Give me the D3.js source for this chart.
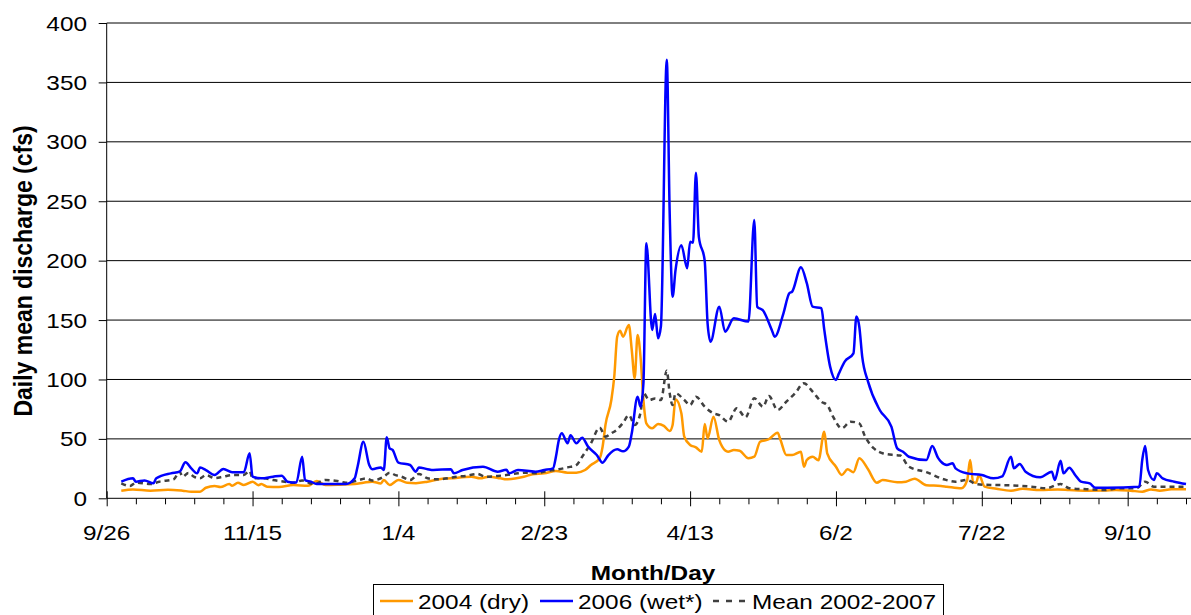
<!DOCTYPE html>
<html>
<head>
<meta charset="utf-8">
<script src="https://cdn.jsdelivr.net/npm/d3@7"></script>
<style>
  body { margin: 0; background: #fff; }
  svg { display: block; }
  text { font-family: "Liberation Sans", Arial, sans-serif; fill: #000; }
</style>
</head>
<body>
<script>
// days counted from 9/26; the water year runs 10/1 (day 5) to 9/30 (day 370)
var tickLabels = ["9/26", "11/15", "1/4", "2/23", "4/13", "6/2", "7/22", "9/10"];
var yTicks = [0, 50, 100, 150, 200, 250, 300, 350, 400];

// 2006 (wet*)
var wetDay = [5, 9, 10, 13, 16, 17, 22, 25, 27, 29, 31, 32, 34, 37, 40, 43, 47, 49, 50, 53,
  57, 60, 62, 65, 67, 68, 70, 72, 78, 82, 85, 86, 88, 90, 91, 94, 95, 96, 97, 98,
  100, 104, 106, 107, 110, 112, 118, 119, 122, 129, 134, 137, 138, 141, 147, 150, 153, 154, 155, 156,
  158, 159, 161, 163, 165, 168, 170, 172, 175, 177, 179, 180, 182, 183, 184, 185, 187, 188, 189, 190,
  192, 193, 194, 195, 197, 199, 200, 201, 202, 203, 205, 206, 207, 210, 212, 215, 220, 222, 223, 225,
  228, 229, 232, 234, 235, 238, 240, 242, 245, 246, 248, 250, 251, 253, 256, 257, 258, 259, 261, 265,
  269, 271, 273, 275, 281, 283, 285, 286, 288, 290, 291, 295, 300, 304, 307, 310, 311, 313, 315, 320,
  324, 325, 327, 328, 330, 332, 334, 337, 339, 343, 354, 355, 356, 357, 359, 360, 362, 366, 370];
var wetQ = [14, 16.8, 14, 15, 12.6, 16.8, 21, 22.4, 30.3, 25.2, 21, 26, 23.8, 19.6, 24.7, 21.9, 22, 37.9, 18.2, 16.8,
  18.2, 19, 14, 13.2, 35, 15.3, 14, 12, 12, 12, 16.8, 26.6, 47.6, 28, 24.5, 26, 23.8, 51.3, 42, 40.7,
  30, 28, 22.4, 26, 24.5, 23.8, 24.5, 21, 23.8, 26.6, 22.4, 24, 21, 23.8, 22.4, 23.8, 25.2, 35, 49, 54.7,
  46.3, 53, 46.3, 51, 43.5, 36.4, 30, 36.4, 41.2, 39.5, 43.5, 54.7, 85.5, 77, 96.8, 214.6, 141.7, 155, 134.7, 145,
  369, 240, 169.7, 192, 213, 193.6, 216, 215, 274, 220, 200, 147, 131.8, 161.3, 140.2, 151.5, 148.7, 234.3, 161.3, 158,
  141.7, 136, 155.7, 172.6, 174, 194.4, 181, 161.3, 160, 141.7, 110.8, 99.6, 105, 115, 122, 152.9, 144.4, 119.2, 98.2, 74.3,
  60.3, 42, 39.2, 35, 32.2, 44, 34, 30.8, 28, 29.5, 25.2, 21, 19.6, 16.8, 18.5, 35, 25.2, 28.9, 22.4, 17.7,
  22.4, 15.4, 31.6, 21, 25.8, 19.6, 14, 12.5, 8.9, 8.9, 9.8, 32.2, 44, 23.8, 15.4, 21, 16.8, 14, 12];

// 2004 (dry)
var dryDay = [5, 9, 15, 21, 26, 29, 32, 34, 37, 39, 42, 43, 45, 47, 50, 52, 53, 55, 59, 64,
  69, 72, 75, 80, 85, 88, 91, 94, 95, 97, 100, 103, 106, 110, 114, 118, 125, 128, 131, 135,
  137, 143, 146, 150, 154, 158, 161, 164, 166, 169, 170, 171, 173, 174, 175, 176, 177, 179, 180, 181,
  182, 183, 184, 185, 187, 189, 191, 193, 194, 195, 197, 198, 200, 202, 204, 205, 206, 208, 210, 211,
  213, 215, 217, 220, 222, 224, 227, 230, 231, 233, 235, 238, 239, 240, 242, 244, 246, 247, 250, 252,
  254, 256, 258, 261, 264, 266, 271, 274, 277, 281, 286, 288, 293, 295, 296, 297, 298, 299, 301, 305,
  310, 314, 320, 326, 330, 336, 342, 346, 351, 355, 358, 361, 365, 370];
var dryQ = [6.4, 7.5, 6.4, 7.2, 6.4, 5.6, 5.6, 8.9, 10.4, 9.5, 12, 10.5, 13.1, 11.2, 14, 11, 12, 9.8, 9.5, 11.2,
  10.5, 14.5, 11.2, 11.5, 12, 13.1, 14, 12.5, 15.4, 11.2, 15.4, 13.1, 12.7, 14, 16, 16.8, 18.2, 16.8, 18.2, 16.8,
  16, 18.2, 20.2, 21, 23, 21.6, 21.6, 23.8, 28, 33.7, 43.4, 62, 82.7, 102.4, 136, 141, 136, 145.9, 124.8, 101,
  137.5, 119.2, 82.7, 63.1, 58.9, 62.5, 61, 56.6, 61.7, 83.3, 71.5, 51.9, 44.9, 42.9, 39.2, 62.5, 50.5, 68.7, 49, 43.4,
  39.2, 40.7, 40, 33.7, 35, 47.6, 49.7, 55.2, 49, 36.4, 36.4, 39.2, 26.6, 32.2, 35, 32, 56, 37.9, 26.6, 19.6,
  24.4, 22, 33.7, 24.4, 13.1, 15.4, 13.5, 14, 16.5, 11, 10.4, 9.8, 8.4, 15.4, 32.2, 14, 13, 19.6, 9.8, 8,
  6.4, 8, 7, 7.5, 7, 6.4, 6.5, 7, 6.4, 5.6, 7.5, 6.4, 7.6, 7.6];

// Mean 2002-2007
var meanDay = [5, 8, 10, 15, 18, 23, 25, 26, 28, 30, 32, 34, 37, 40, 43, 47, 49, 50, 54, 57,
  61, 64, 67, 71, 75, 79, 82, 86, 89, 91, 95, 97, 99, 101, 104, 107, 110, 113, 117, 120,
  123, 127, 130, 134, 137, 141, 144, 147, 151, 154, 158, 161, 163, 166, 169, 171, 173, 175, 177, 179,
  181, 183, 184, 186, 188, 190, 192, 193, 194, 195, 198, 200, 202, 205, 208, 210, 213, 216, 219, 222,
  225, 227, 230, 233, 236, 239, 242, 245, 247, 249, 252, 255, 258, 260, 263, 266, 270, 272, 275, 281,
  287, 291, 295, 298, 303, 309, 317, 322, 327, 330, 336, 342, 347, 353, 356, 359, 365, 370];
var meanQ = [12.6, 10.4, 13.1, 12, 14, 16, 22.4, 18.2, 21.3, 18, 16.8, 19.6, 17, 18.2, 19.6, 19.6, 23, 16.8, 16.8, 15.4,
  14, 13, 15, 12, 15.4, 14.5, 13.1, 15, 16.8, 15, 18.2, 21.6, 19.5, 18.2, 15.4, 20.5, 16.8, 16, 16.8, 18.2,
  18.8, 20.5, 18.2, 18.8, 19.6, 21, 21.6, 21, 23, 24, 26, 28, 35, 46.3, 59.4, 51.9, 54.7, 58, 63.5, 70,
  61.7, 72, 88.4, 82.7, 84, 82.7, 107.4, 88.4, 78.5, 88.4, 82.7, 78.5, 85.5, 77.1, 71.5, 70, 64.5, 75.7, 68.2, 84.2,
  77.1, 86, 74.3, 81.3, 88.4, 96.8, 89.7, 81.3, 78.5, 68.7, 58.9, 64.5, 63, 51.9, 42, 37.9, 36.4, 36, 26.6, 22,
  16, 14, 15.4, 12, 11.2, 11, 9.8, 8.4, 12, 8.5, 7.6, 7, 8.4, 8.4, 14, 9.8, 9.8, 9.8];

var W = 1191, H = 615;
var SX = 1.16; // the reference text is stretched sideways

var svg = d3.select("body").append("svg")
  .attr("width", W)
  .attr("height", H);

var x = d3.scaleLinear().domain([0, 370]).range([106.7, 1186]);
var y = d3.scaleLinear().domain([0, 400]).range([498.3, 23]);

function label(g, px, py, str, anchor, size, weight) {
  return g.append("text")
    .attr("transform", "translate(" + px + "," + py + ") scale(" + SX + ",1)")
    .attr("text-anchor", anchor)
    .style("font-size", size + "px")
    .style("font-weight", weight || "normal")
    .text(str);
}

// gridlines
svg.append("g").selectAll("line")
  .data(yTicks.slice(1))
  .enter().append("line")
  .attr("x1", x(0))
  .attr("x2", W)
  .attr("y1", function (d) { return y(d); })
  .attr("y2", function (d) { return y(d); })
  .attr("stroke", "#000")
  .attr("stroke-width", 1);

// y axis
var yAxis = svg.append("g")
  .attr("transform", "translate(" + x(0) + ",0)")
  .call(d3.axisLeft(y).tickValues(yTicks).tickSize(8).tickFormat(""));
yAxis.selectAll("path, line").attr("stroke", "#000");
yAxis.select(".domain").attr("d", "M0," + y(0) + "V" + y(400));

yTicks.forEach(function (d) {
  label(svg, 87, y(d) + 7.5, d, "end", 21);
});

// x axis
var xAxis = svg.append("g")
  .attr("transform", "translate(0," + y(0) + ")")
  .call(d3.axisBottom(x).tickValues(d3.range(0, 371, 10)).tickSize(6).tickFormat(""));
xAxis.select(".domain").attr("d", "M" + x(0) + ",0H" + W).attr("stroke", "#000");
xAxis.selectAll(".tick line")
  .attr("stroke", "#000")
  .attr("y1", function (d) { return d % 50 === 0 ? -7 : 0; })
  .attr("y2", function (d) { return d % 50 === 0 ? 8 : 6; });

tickLabels.forEach(function (t, i) {
  label(svg, x(i * 50), 540, t, "middle", 21);
});

label(svg, 653, 580, "Month/Day", "middle", 21, "bold");

svg.append("text")
  .attr("transform", "translate(32,271) scale(" + SX + ",1) rotate(-90)")
  .attr("text-anchor", "middle")
  .style("font-size", "23px")
  .style("font-weight", "bold")
  .text("Daily mean discharge (cfs)");

// series
function pts(days, vals) {
  return days.map(function (d, i) { return [d, vals[i]]; });
}

var line = d3.line()
  .x(function (d) { return x(d[0]); })
  .y(function (d) { return y(d[1]); })
  .curve(d3.curveMonotoneX);

svg.append("path")
  .datum(pts(dryDay, dryQ))
  .attr("d", line)
  .attr("fill", "none")
  .attr("stroke", "#ff9900")
  .attr("stroke-width", 2.5);

svg.append("path")
  .datum(pts(meanDay, meanQ))
  .attr("d", line)
  .attr("fill", "none")
  .attr("stroke", "#404040")
  .attr("stroke-width", 2.5)
  .attr("stroke-dasharray", "5,4");

svg.append("path")
  .datum(pts(wetDay, wetQ))
  .attr("d", line)
  .attr("fill", "none")
  .attr("stroke", "#0000ff")
  .attr("stroke-width", 2.5);

// legend
var legend = svg.append("g");
legend.append("rect")
  .attr("x", 373.5)
  .attr("y", 584.5)
  .attr("width", 570)
  .attr("height", 50)
  .attr("fill", "#fff")
  .attr("stroke", "#000");

var legendItems = [
  { name: "2004 (dry)", color: "#ff9900", dash: null, x0: 380, tx: 418 },
  { name: "2006 (wet*)", color: "#0000ff", dash: null, x0: 540, tx: 578 },
  { name: "Mean 2002-2007", color: "#404040", dash: "6,7", x0: 713, tx: 752 }
];
legendItems.forEach(function (d) {
  legend.append("line")
    .attr("x1", d.x0)
    .attr("x2", d.x0 + 33)
    .attr("y1", 601)
    .attr("y2", 601)
    .attr("stroke", d.color)
    .attr("stroke-width", 2.5)
    .attr("stroke-dasharray", d.dash);
  label(legend, d.tx, 609, d.name, "start", 21);
});
</script>
</body>
</html>
